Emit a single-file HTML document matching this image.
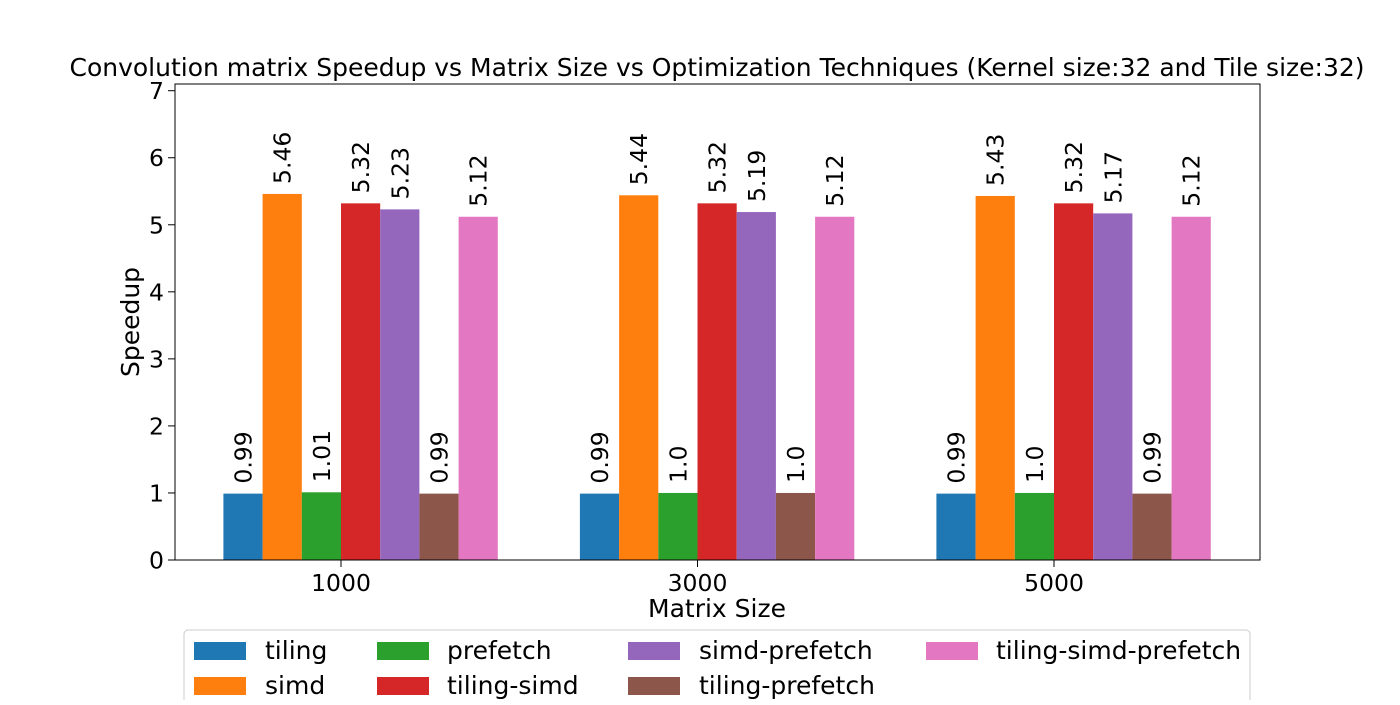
<!DOCTYPE html>
<html><head><meta charset="utf-8"><style>
body{margin:0;background:#fff;}
svg{font-family:"DejaVu Sans","Liberation Sans",sans-serif;}
</style></head><body>
<svg id="chart" width="1400" height="700" viewBox="0 0 1400 700">
<rect width="1400" height="700" fill="#fff"/>
<text x="717" y="76" font-size="25" text-anchor="middle">Convolution matrix Speedup vs Matrix Size vs Optimization Techniques (Kernel size:32 and Tile size:32)</text>
<g id="bars"></g>
<g id="yaxis"></g>
<g id="xaxis"></g>
<rect x="175" y="84" width="1085" height="476" fill="none" stroke="#000" stroke-width="1"/>
<text x="717" y="617" font-size="25" text-anchor="middle">Matrix Size</text>
<text transform="translate(139,322) rotate(-90)" font-size="25" text-anchor="middle">Speedup</text>
<g id="legend">
<rect x="184" y="630" width="1066" height="80" rx="4" fill="#fff" stroke="#ccc"/>
</g>
</svg>
<script>
const categories=["1000","3000","5000"];
const seriesNames=["tiling","simd","prefetch","tiling-simd","simd-prefetch","tiling-prefetch","tiling-simd-prefetch"];
const tiling=[0.99,0.99,0.99];
const simd=[5.46,5.44,5.43];
const prefetch=[1.01,1.0,1.0];
const tilingSimd=[5.32,5.32,5.32];
const simdPrefetch=[5.23,5.19,5.17];
const tilingPrefetch=[0.99,1.0,0.99];
const tilingSimdPrefetch=[5.12,5.12,5.12];
const labelsTiling=["0.99","0.99","0.99"];
const labelsSimd=["5.46","5.44","5.43"];
const labelsPrefetch=["1.01","1.0","1.0"];
const labelsTilingSimd=["5.32","5.32","5.32"];
const labelsSimdPrefetch=["5.23","5.19","5.17"];
const labelsTilingPrefetch=["0.99","1.0","0.99"];
const labelsTilingSimdPrefetch=["5.12","5.12","5.12"];
const yTicks=[0,1,2,3,4,5,6,7];
const series=[tiling,simd,prefetch,tilingSimd,simdPrefetch,tilingPrefetch,tilingSimdPrefetch];
const labels=[labelsTiling,labelsSimd,labelsPrefetch,labelsTilingSimd,labelsSimdPrefetch,labelsTilingPrefetch,labelsTilingSimdPrefetch];
const colors=["#1f77b4","#ff7f0e","#2ca02c","#d62728","#9467bd","#8c564b","#e377c2"];
const NS="http://www.w3.org/2000/svg";
const yMax=7.1;
function y(v){return 560-v*(476/yMax);}
function x(i){return 341+i*356.5;}
const bw=39.2;
function mk(tag,attrs,parent){const e=document.createElementNS(NS,tag);for(const k in attrs)e.setAttribute(k,attrs[k]);parent.appendChild(e);return e;}
const gb=document.getElementById('bars');
series.forEach((s,j)=>{
  s.forEach((v,i)=>{
    const left=x(i)-3*bw+j*bw;
    const r=mk('rect',{x:left.toFixed(2),y:y(v).toFixed(2),width:bw,height:(560-y(v)).toFixed(2),fill:colors[j]},gb);
    
    
    const cx=left+bw/2;
    const t=mk('text',{x:0,y:0,'font-size':23.5,transform:`translate(${cx+8.5},${y(v)-10}) rotate(-90)`},gb);
    t.textContent=labels[j][i];
    
    
  });
});
const gy=document.getElementById('yaxis');
yTicks.forEach(v=>{
  const l=mk('line',{x1:168,x2:175,y1:y(v),y2:y(v),stroke:'#000'},gy);
  
  
  const t=mk('text',{x:164,y:y(v)+8.5,'font-size':23.5,'text-anchor':'end'},gy);
  t.textContent=v;
  
  
});
const gx=document.getElementById('xaxis');
categories.forEach((c,i)=>{
  const l=mk('line',{x1:x(i),x2:x(i),y1:560,y2:567,stroke:'#000'},gx);
  
  
  const t=mk('text',{x:x(i),y:591,'font-size':23.5,'text-anchor':'middle'},gx);
  t.textContent=c;
  
  
});
const gl=document.getElementById('legend');
const colX=[194,194,377,377,628,628,926];
const rowY=[642,677,642,677,642,677,642];
const txtX=[265,265,447,447,699,699,996];
seriesNames.forEach((n,j)=>{
  const r=mk('rect',{x:colX[j],y:rowY[j],width:52,height:18,fill:colors[j]},gl);
  
  
  const t=mk('text',{x:txtX[j],y:rowY[j]+17,'font-size':25},gl);
  t.textContent=n;
  
  
});
</script>
</body></html>
